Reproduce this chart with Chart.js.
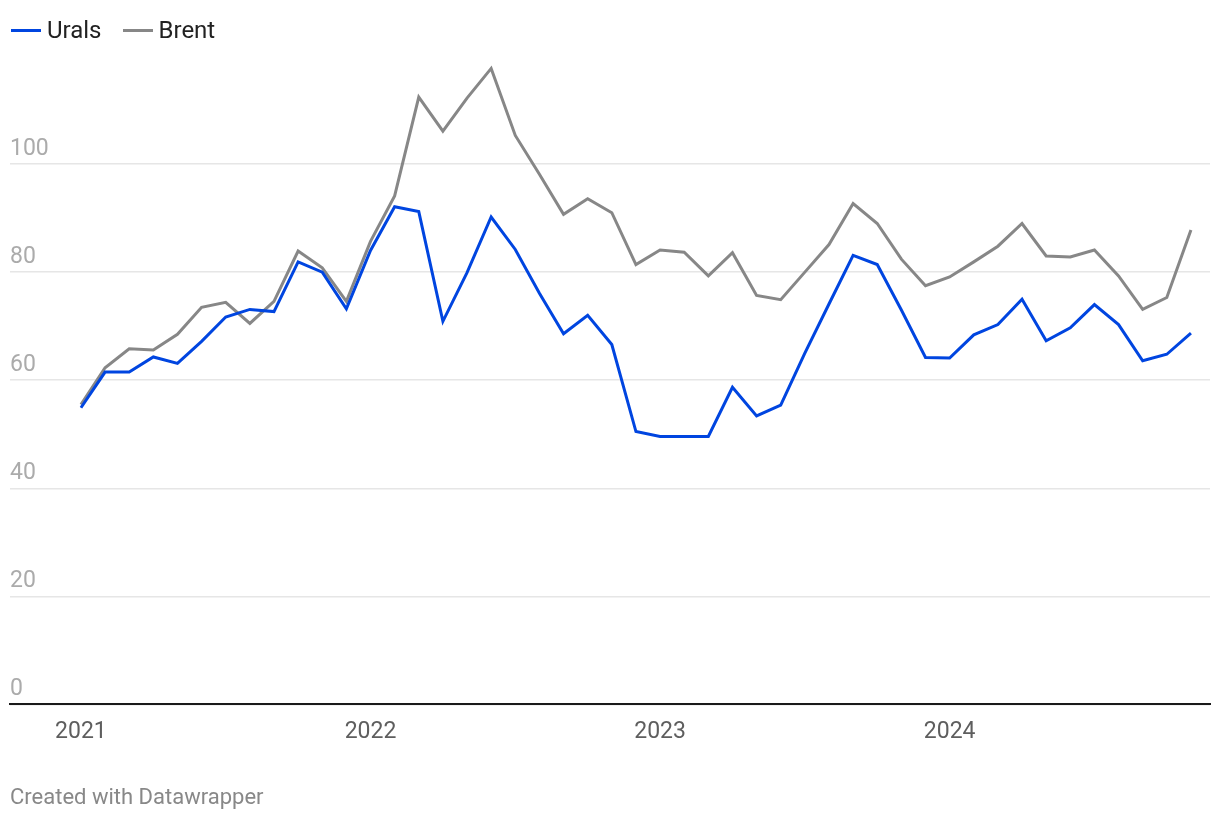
<!DOCTYPE html>
<html>
<head>
<meta charset="utf-8">
<script src="https://cdn.jsdelivr.net/npm/chart.js@4"></script>
<style>
  body { margin: 0; background: #fff; font-family: Roboto, sans-serif; }
  #wrap { position: relative; width: 1220px; height: 820px; }
  #chart { position: absolute; left: 0; top: 0; }
  #legend { position: absolute; left: 11px; top: 16px; display: flex; align-items: center; font-size: 24px; color: #222; line-height: 28px; }
  .item { display: flex; align-items: center; margin-right: 21px; }
  .swatch { width: 30px; height: 3px; margin-right: 6px; }
  #footer { position: absolute; left: 10px; top: 783px; font-size: 22px; line-height: 28px; color: #888; }
</style>
</head>
<body>
<div id="wrap">
  <canvas id="chart" width="1220" height="820"></canvas>
  <div id="legend"></div>
  <div id="footer">Created with Datawrapper</div>
</div>
<script>
// monthly average price, USD per barrel, Jan 2021 - Nov 2024
const months = [
  "2021-01", "2021-02", "2021-03", "2021-04", "2021-05", "2021-06", "2021-07", "2021-08", "2021-09", "2021-10", "2021-11", "2021-12",
  "2022-01", "2022-02", "2022-03", "2022-04", "2022-05", "2022-06", "2022-07", "2022-08", "2022-09", "2022-10", "2022-11", "2022-12",
  "2023-01", "2023-02", "2023-03", "2023-04", "2023-05", "2023-06", "2023-07", "2023-08", "2023-09", "2023-10", "2023-11", "2023-12",
  "2024-01", "2024-02", "2024-03", "2024-04", "2024-05", "2024-06", "2024-07", "2024-08", "2024-09", "2024-10", "2024-11"
];
const urals = [
  54.9, 61.5, 61.5, 64.3, 63.1, 67.2, 71.7, 73.1, 72.7, 81.9, 80.0, 73.2,
  84.0, 92.1, 91.2, 70.9, 79.9, 90.2, 84.2, 76.1, 68.6, 72.0, 66.6, 50.5,
  49.6, 49.6, 49.6, 58.7, 53.4, 55.4, 65.0, 74.1, 83.1, 81.4, 73.0, 64.2,
  64.1, 68.4, 70.3, 75.0, 67.3, 69.7, 74.0, 70.3, 63.6, 64.8, 68.7
];
const brent = [
  55.5, 62.3, 65.8, 65.6, 68.5, 73.5, 74.4, 70.5, 74.6, 83.9, 80.8, 74.6,
  85.7, 94.1, 112.4, 106.1, 112.2, 117.7, 105.3, 98.1, 90.7, 93.6, 91.0, 81.4,
  84.1, 83.7, 79.3, 83.6, 75.7, 74.9, 80.0, 85.1, 92.7, 89.0, 82.4, 77.5,
  79.1, 81.9, 84.8, 89.0, 83.0, 82.8, 84.1, 79.3, 73.1, 75.3, 87.8
];
const yearLabels = ["2021", "2022", "2023", "2024"];
const yTickValues = [0, 20, 40, 60, 80, 100];

const seriesNames = ["Urals", "Brent"];
const seriesColors = ["#0045e0", "#878787"];

// x position = month index, year ticks sit on each January
const yearTickIdx = yearLabels.map((y) => months.indexOf(y + "-01"));
const toPoints = (arr) => arr.map((v, i) => ({ x: i, y: v }));

const legendEl = document.getElementById("legend");
seriesNames.forEach((name, i) => {
  const item = document.createElement("div");
  item.className = "item";
  item.innerHTML = `<span class="swatch" style="background:${seriesColors[i]}"></span><span>${name}</span>`;
  legendEl.appendChild(item);
});

const ctx = document.getElementById("chart").getContext("2d");
new Chart(ctx, {
  type: "line",
  data: {
    datasets: [
      {
        label: seriesNames[0],
        data: toPoints(urals),
        borderColor: seriesColors[0],
        borderWidth: 3,
        pointRadius: 0,
        tension: 0,
      },
      {
        label: seriesNames[1],
        data: toPoints(brent),
        borderColor: seriesColors[1],
        borderWidth: 3,
        pointRadius: 0,
        tension: 0,
      },
    ],
  },
  options: {
    responsive: false,
    animation: false,
    devicePixelRatio: 1,
    layout: { padding: { left: 10, right: 10, top: 56, bottom: 60 } },
    plugins: {
      legend: { display: false },
      tooltip: { enabled: false },
    },
    scales: {
      x: {
        type: "linear",
        min: -2.94,
        max: 46.79,
        afterBuildTicks: (axis) => {
          axis.ticks = yearTickIdx.map((v) => ({ value: v }));
        },
        grid: { display: false, drawTicks: false },
        border: { display: true, color: "#1a1a1a", width: 2 },
        ticks: {
          padding: 14,
          color: "#5e5e5e",
          font: { family: "Roboto", size: 23 },
          maxRotation: 0,
          callback: (value) => yearLabels[yearTickIdx.indexOf(value)],
        },
      },
      y: {
        min: 0,
        max: 120,
        afterBuildTicks: (axis) => {
          axis.ticks = yTickValues.map((v) => ({ value: v }));
        },
        grid: { color: "#e6e6e6", lineWidth: 1.5, drawTicks: false },
        border: { display: false },
        ticks: {
          mirror: true,
          padding: 0,
          labelOffset: -15,
          color: "#ababab",
          font: { family: "Roboto", size: 23 },
        },
      },
    },
  },
});
</script>
</body>
</html>
